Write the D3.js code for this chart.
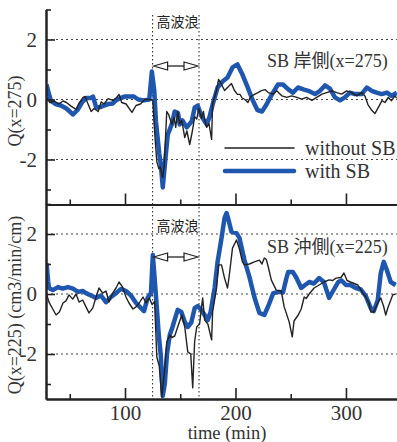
<!DOCTYPE html>
<html>
<head>
<meta charset="utf-8">
<script src="https://cdn.jsdelivr.net/npm/d3@7"></script>
<style>
  body { margin: 0; background: #fff; }
  svg { display: block; }
</style>
</head>
<body>
<svg id="chart" width="397" height="442"></svg>
<script>
// tick values and labels
const xTicksMajor = [100, 200, 300];
const xTicksMinor = [50, 150, 250];
const yTicksMajor = [2, 0, -2];
const yTicksMinor = [3, 1, -1, -3];
const stormWindow = [125, 167];
const stormLabel = '高波浪';
const seriesNames = ['without SB', 'with SB'];
const panelTitles = ['SB 岸側(x=275)', 'SB 沖側(x=225)'];
const yTitles = ['Q(x=275)', 'Q(x=225) (cm3/min/cm)'];
const xTitle = 'time (min)';

// [time (min), Q]
const topWith = [[29,0.5],[31,0.2],[33,-0.05],[37,-0.15],[42,-0.2],[47,-0.3],[53,-0.5],[57,-0.35],[61,-0.1],[65,0.05],[69,0.05],[71,0.1],[74,-0.27],[78,-0.25],[81,-0.2],[85,-0.15],[89,-0.13],[92,-0.02],[96,0.05],[100,0.1],[104,0.1],[108,0.1],[112,0.0],[117,-0.03],[122,0.0],[124.3,0.93],[126.5,0.3],[128,-0.73],[131,-1.8],[132.4,-2.17],[134.2,-2.93],[135.5,-2.4],[138.7,-1.17],[142.3,-0.83],[145,-0.4],[148,-0.45],[149.5,-0.83],[152,-0.7],[155.9,-0.93],[160.4,-0.73],[163.1,-0.27],[165.8,-0.2],[169.4,-0.57],[173.9,-0.83],[176.6,-0.57],[179.3,-0.17],[183.8,0.4],[188.3,0.6],[192.8,0.73],[197.3,1.07],[201.8,1.17],[206.3,0.83],[210.8,0.43],[215.3,0.0],[219.8,-0.35],[224,-0.4],[228.2,-0.16],[233,0.17],[238.5,0.5],[243,0.5],[247.8,0.34],[252,0.23],[256.6,0.4],[261.4,0.34],[265.9,0.29],[272,0.18],[276.5,0.29],[281,0.47],[285.5,0.36],[290,0.07],[294.6,-0.03],[299,0.07],[303.6,0.23],[308.1,0.18],[314.2,0.18],[319,0.4],[323.3,0.29],[327.8,0.23],[332.3,0.18],[337.1,0.23],[341.3,0.12],[346,0.23]];

const topWithout = [[29,0.07],[32,-0.1],[36,-0.05],[40,-0.15],[44,-0.05],[47,-0.1],[51.4,-0.23],[55.9,-0.33],[58,-0.15],[62,0.07],[64,0.1],[66,-0.1],[69.4,-0.4],[72,-0.3],[75.7,-0.4],[78.4,-0.08],[81,-0.15],[84.7,0.03],[89,-0.03],[92,0.05],[94.6,0.17],[97,-0.1],[101,-0.15],[106.3,-0.43],[110,-0.2],[114,-0.15],[118,0.0],[123.4,0.0],[125.2,-0.05],[127,-1.17],[128.8,-2.07],[130.6,-2.3],[132,-2.25],[133.3,-2.5],[134.2,-2.6],[135.5,-2.2],[137.8,-0.4],[139.5,-0.5],[142.3,-0.83],[144.5,-0.6],[145.9,-0.93],[147.7,-0.4],[149.5,-0.8],[151.4,-0.7],[154.1,-1.27],[156,-1.05],[158.6,-1.5],[161,-1.05],[163.1,-0.57],[165,-0.65],[166.7,-0.3],[169.4,-0.63],[171,-0.4],[172.5,-0.75],[173.9,-0.93],[176,-0.8],[178.4,-1.33],[179.3,-0.13],[182.9,0.3],[184.7,0.67],[187.4,0.5],[190.1,0.3],[192.8,0.4],[196.4,0.53],[199.1,0.3],[201.8,0.17],[204.1,0.17],[206,0.05],[208.6,0.0],[211.3,-0.1],[213,0.05],[214.9,0.12],[217.6,0.18],[220.4,0.23],[223,0.29],[226.7,0.33],[229.7,0.23],[234.2,0.18],[237.3,0.29],[242.1,0.12],[246.3,0.07],[250.8,0.12],[255.7,0.07],[259.9,0.01],[264.4,0.07],[269.2,-0.03],[273.5,0.07],[278.3,0.18],[282.5,0.23],[287.3,0.29],[291.6,0.23],[296.1,0.18],[300.6,0.29],[305.2,0.23],[309.9,0.12],[314.2,0.23],[317.2,0.12],[319.9,-0.17],[323.5,-0.37],[326.2,-0.47],[329.2,-0.27],[332.6,-0.04],[335.3,-0.1],[338.3,0.07],[341.3,-0.04],[344.3,0.12],[346,0.05]];

const bottomWith = [[29,1.03],[30.5,0.4],[31.2,0.2],[34.6,0.13],[39.4,0.23],[43.6,0.18],[48.4,0.23],[52.9,0.18],[57.5,0.07],[61.7,0.1],[64.7,0.03],[69.2,-0.05],[73.8,-0.13],[78.3,-0.05],[82.8,-0.27],[87.3,-0.1],[91.9,0.03],[96.4,0.17],[100.9,0.1],[105.4,-0.05],[110,-0.3],[114.5,-0.47],[117.2,-0.57],[120.5,-0.13],[123.5,0.03],[125.2,1.3],[127.9,0.0],[130.6,-1.37],[132.4,-2.05],[134.2,-3.4],[136,-3.0],[138,-2.0],[140.5,-1.37],[143,-1.1],[147.7,-0.53],[151,-0.6],[154.1,-0.93],[156.8,-1.1],[160,-0.95],[163.1,-0.47],[165.8,-0.4],[169.4,-0.55],[172.1,-0.7],[174.8,-0.87],[177.5,-0.6],[181.1,0.2],[183.8,1.07],[187.4,1.87],[190.1,2.53],[191.9,2.7],[193.5,2.5],[196.4,2.07],[200.9,2.03],[203.6,1.87],[208.1,1.13],[212.6,0.57],[217.1,-0.1],[221.6,-0.63],[226.1,-0.7],[229.7,-0.4],[234.2,0.03],[239.6,0.07],[243,0.05],[245.9,0.5],[247.7,0.73],[252,0.73],[255,0.55],[259.5,0.2],[263,0.3],[266.7,0.4],[271,0.35],[275.7,0.53],[280,0.4],[284.7,-0.13],[288.3,0.1],[293,0.4],[296,0.45],[300,0.3],[304,0.3],[309,0.2],[313.5,0.15],[318,-0.07],[322.5,-0.47],[325.2,-0.57],[328.8,-0.2],[331.5,0.7],[334.2,1.07],[337,0.8],[340.5,0.4],[345,0.3]];

const bottomWithout = [[29,0.0],[31.2,-0.27],[34.6,-0.5],[37.6,-0.7],[40.6,-0.6],[43.9,-0.3],[46.6,-0.23],[49.3,-0.03],[52.7,-0.17],[55.7,0.0],[58.4,-0.27],[61.7,-0.2],[64.7,-0.43],[67.4,-0.63],[70.8,-0.47],[73.8,-0.1],[76.5,0.2],[79.8,0.03],[82.8,0.1],[85.5,-0.27],[88.9,0.03],[91.9,0.2],[94.6,0.4],[97.9,0.23],[100.9,-0.1],[103.6,-0.3],[107.2,-0.5],[110,-0.43],[112.9,-0.3],[116.3,-0.1],[119,-0.3],[122,-0.13],[124.5,-0.35],[126.8,-0.25],[128.8,-2.1],[131,-2.4],[133.3,-3.43],[136,-2.5],[137.8,-1.6],[140.5,-1.37],[142.3,-1.45],[145,-1.4],[147.7,-1.1],[151.4,-0.7],[154.1,-1.1],[156.8,-1.93],[159.5,-2.0],[161.3,-3.13],[163,-1.6],[164.9,-1.1],[167.5,-1.0],[170.3,-0.13],[172.1,-0.87],[175,-1.0],[178.4,-1.53],[179.3,-0.6],[182.9,0.2],[184.7,0.97],[187.4,0.97],[190.1,0.53],[192.8,0.2],[194,0.5],[197.3,1.53],[200.9,1.8],[203.6,1.5],[206.3,1.07],[208.1,0.97],[212.6,1.0],[217.1,1.07],[221.6,1.13],[224,1.0],[226.1,1.2],[227.9,1.15],[229.7,0.9],[232.4,0.47],[236.9,0.13],[241.4,0.1],[244.1,-0.43],[248.6,-0.93],[251.4,-1.43],[253,-0.9],[256.8,-0.7],[259.5,-0.5],[262.2,-0.1],[264,-0.15],[266.7,0.0],[271.2,0.2],[275.7,0.3],[280.2,0.4],[284.7,0.47],[288,0.45],[291,0.53],[295.5,0.55],[298.2,0.7],[301,0.45],[304,0.4],[310.8,0.3],[315.3,0.03],[318,-0.1],[320.7,-0.3],[322.5,-0.6],[325.2,-0.6],[328.8,-0.3],[331.5,-0.13],[334,-0.4],[336,-0.7],[338,-0.45],[342.3,-0.03],[345,0.0]];

const serif = '"Liberation Serif", "Noto Sans CJK JP", serif';
const cjk = '"Noto Sans CJK JP", sans-serif';
const ink = '#222';
const blue = '#1f56ae';

const svg = d3.select('#chart');
const x = d3.scaleLinear().domain([28.5, 346.2]).range([46, 397]);

const panels = [
  { top: 9.5, bottom: 204.5, without: topWithout, with: topWith, title: panelTitles[0], yTitle: yTitles[0], titleY: 67, yTitleY: 111, labelY: 26.5, arrowY: 66, xLabels: false },
  { top: 204, bottom: 399, without: bottomWithout, with: bottomWith, title: panelTitles[1], yTitle: yTitles[1], titleY: 253, yTitleY: 305, labelY: 231, arrowY: 257, xLabels: true }
];

svg.append('defs').selectAll('clipPath').data(panels).enter()
  .append('clipPath').attr('id', (d, i) => 'clip' + i)
  .append('rect').attr('x', 46).attr('y', d => d.top).attr('width', 351).attr('height', d => d.bottom - d.top);

// storm window dotted verticals span both panels
svg.selectAll('.storm').data(stormWindow).enter().append('line')
  .attr('x1', d => x(d)).attr('x2', d => x(d))
  .attr('y1', 15).attr('y2', 399)
  .attr('stroke', ink).attr('stroke-width', 1).attr('stroke-dasharray', '1.5,2.5');

panels.forEach((p, i) => {
  const y = d3.scaleLinear().domain([-3.5, 3]).range([p.bottom, p.top]);
  const g = svg.append('g');

  // dotted grid
  g.selectAll('.grid').data(yTicksMajor).enter().append('line')
    .attr('x1', 46).attr('x2', 397)
    .attr('y1', d => y(d)).attr('y2', d => y(d))
    .attr('stroke', '#444').attr('stroke-width', 1).attr('stroke-dasharray', '2,3');

  const line = d3.line().x(d => x(d[0])).y(d => y(d[1]));
  const data = g.append('g').attr('clip-path', `url(#clip${i})`);
  data.append('path').datum(p.with).attr('d', line)
    .attr('fill', 'none').attr('stroke', blue).attr('stroke-width', 4.5).attr('stroke-linejoin', 'round');
  data.append('path').datum(p.without).attr('d', line)
    .attr('fill', 'none').attr('stroke', ink).attr('stroke-width', 1.4).attr('stroke-linejoin', 'round');

  // axes
  const yMajor = g.append('g').attr('transform', 'translate(46,0)')
    .call(d3.axisLeft(y).tickValues(yTicksMajor).tickSizeInner(-9).tickSizeOuter(0).tickPadding(9).tickFormat(d => d === 0 ? '0' : d));
  g.append('g').attr('transform', 'translate(46,0)')
    .call(d3.axisLeft(y).tickValues(yTicksMinor).tickSizeInner(-5).tickSizeOuter(0).tickFormat(''));
  const xMajor = g.append('g').attr('transform', `translate(0,${p.bottom})`)
    .call(d3.axisBottom(x).tickValues(xTicksMajor).tickSizeInner(-11).tickSizeOuter(0).tickPadding(6).tickFormat(p.xLabels ? d3.format('d') : ''));
  g.append('g').attr('transform', `translate(0,${p.bottom})`)
    .call(d3.axisBottom(x).tickValues(xTicksMinor).tickSizeInner(-5).tickSizeOuter(0).tickFormat(''));
  g.selectAll('.domain').attr('stroke', ink).attr('stroke-width', 2);
  g.selectAll('.tick line').attr('stroke', ink).attr('stroke-width', 1.6);
  yMajor.selectAll('text').attr('font-family', serif).attr('font-size', 21).attr('fill', '#333');
  xMajor.selectAll('text').attr('font-family', serif).attr('font-size', 21).attr('fill', '#333');

  // y title
  svg.append('text')
    .attr('transform', `translate(21,${p.yTitleY}) rotate(-90)`)
    .attr('text-anchor', 'middle').attr('font-family', serif).attr('font-size', 18).attr('fill', '#333')
    .text(p.yTitle);

  // panel title
  svg.append('text').attr('x', 267).attr('y', p.titleY)
    .attr('font-family', serif).attr('font-size', 18).attr('fill', '#333').text(p.title);

  // storm label and double arrow
  svg.append('text').attr('x', x(stormWindow[0]) + 4).attr('y', p.labelY)
    .attr('font-family', cjk).attr('font-size', 14).attr('fill', ink).text(stormLabel);
  const x1 = x(stormWindow[0]) + 1, x2 = x(stormWindow[1]) - 1, ay = p.arrowY, hl = 14, hw = 4;
  svg.append('line').attr('x1', x1 + hl).attr('x2', x2 - hl).attr('y1', ay).attr('y2', ay)
    .attr('stroke', ink).attr('stroke-width', 1.3);
  svg.append('path').attr('d', `M${x1},${ay}L${x1 + hl},${ay - hw}L${x1 + hl},${ay + hw}Z`)
    .attr('fill', '#fff').attr('stroke', ink).attr('stroke-width', 1.2);
  svg.append('path').attr('d', `M${x2},${ay}L${x2 - hl},${ay - hw}L${x2 - hl},${ay + hw}Z`)
    .attr('fill', '#fff').attr('stroke', ink).attr('stroke-width', 1.2);
});

// x title
svg.append('text').attr('x', 227).attr('y', 439).attr('text-anchor', 'middle')
  .attr('font-family', serif).attr('font-size', 18.5).attr('fill', '#333').text(xTitle);

// legend
const legend = svg.append('g');
const legendRows = [
  { name: seriesNames[0], color: ink, width: 1.4, y: 148 },
  { name: seriesNames[1], color: blue, width: 4.5, y: 171 }
];
legend.selectAll('line').data(legendRows).enter().append('line')
  .attr('x1', 225).attr('x2', 294).attr('y1', d => d.y).attr('y2', d => d.y)
  .attr('stroke', d => d.color).attr('stroke-width', d => d.width).attr('stroke-linecap', 'round');
legend.selectAll('text').data(legendRows).enter().append('text')
  .attr('x', 305).attr('y', d => d.y + 7)
  .attr('font-family', serif).attr('font-size', 20).attr('fill', '#333')
  .text(d => d.name);
</script>
</body>
</html>
